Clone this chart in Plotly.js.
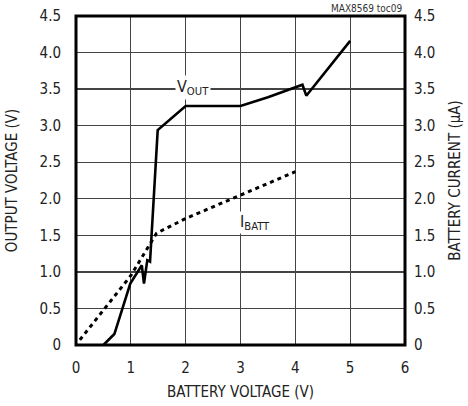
<!DOCTYPE html>
<html><head><meta charset="utf-8">
<script src="https://cdn.plot.ly/plotly-3.0.1.min.js"></script>
<style>html,body{margin:0;padding:0;background:#fff}</style>
</head><body><div id="chart" style="width:468px;height:406px"></div>
<script>
// Output voltage vs battery voltage
const voutX = [0.5, 0.70, 0.99, 1.20, 1.24, 1.30, 1.35, 1.49, 2.0, 3.0, 3.5, 4.1, 4.13, 4.2, 5.0];
const voutY = [0.0, 0.15, 0.84, 1.09, 0.84, 1.16, 1.14, 2.94, 3.27, 3.27, 3.39, 3.55, 3.56, 3.41, 4.16];
// Battery current vs battery voltage
const ibattX = [0.07, 1.0, 1.47, 2.0, 3.0, 4.0];
const ibattY = [0.07, 0.95, 1.53, 1.73, 2.05, 2.37];
const yTicks = [0, 0.5, 1.0, 1.5, 2.0, 2.5, 3.0, 3.5, 4.0, 4.5];
const yTickText = ['0', '0.5', '1.0', '1.5', '2.0', '2.5', '3.0', '3.5', '4.0', '4.5'];
const xTicks = [0, 1, 2, 3, 4, 5, 6];

const FONT = '"DejaVu Sans Condensed", "DejaVu Sans", sans-serif';

const traces = [
  {x: voutX, y: voutY, type: 'scatter', mode: 'lines', line: {color: '#000', width: 2.6}, hoverinfo: 'none'},
  {x: ibattX, y: ibattY, type: 'scatter', mode: 'lines', yaxis: 'y2', line: {color: '#000', width: 3, dash: '4px,4px'}, hoverinfo: 'none'}
];

const axCommon = {
  showgrid: true, gridcolor: '#444', gridwidth: 1.3,
  zeroline: false, showline: false, ticks: '', fixedrange: true,
  tickfont: {family: FONT, size: 15, color: '#222'}
};

const layout = {
  width: 468, height: 406,
  margin: {l: 76, r: 63, t: 16, b: 61},
  paper_bgcolor: '#fff', plot_bgcolor: '#fff',
  showlegend: false,
  font: {family: FONT, color: '#222'},
  xaxis: Object.assign({}, axCommon, {
    range: [0, 6], tickvals: xTicks, ticktext: xTicks.map(String), ticklabelstandoff: 12,
    title: {text: 'BATTERY VOLTAGE (V)', font: {family: FONT, size: 15, color: '#222'}, standoff: 10}
  }),
  yaxis: Object.assign({}, axCommon, {
    range: [0, 4.5], tickvals: yTicks, ticktext: yTickText, ticklabelstandoff: 14,
    title: {text: 'OUTPUT VOLTAGE (V)', font: {family: FONT, size: 15, color: '#222'}, standoff: 18}
  }),
  yaxis2: Object.assign({}, axCommon, {
    overlaying: 'y', side: 'right', showgrid: false,
    range: [0, 4.5], tickvals: yTicks, ticktext: yTickText, ticklabelstandoff: 8,
    title: {text: 'BATTERY CURRENT (µA)', font: {family: FONT, size: 15, color: '#222'}, standoff: 15}
  }),
  shapes: [
    {type: 'rect', xref: 'paper', yref: 'paper', x0: 0, x1: 1, y0: 0, y1: 1, line: {color: '#000', width: 3}}
  ],
  annotations: [
    {xref: 'paper', yref: 'paper', x: 1, y: 1, xanchor: 'right', yanchor: 'bottom', yshift: 0,
     text: 'MAX8569 toc09', showarrow: false, font: {family: FONT, size: 10, color: '#333'}},
    {x: 2.14, y: 3.52, xref: 'x', yref: 'y', text: 'V<sub>OUT</sub>', showarrow: false,
     bgcolor: '#fff', borderpad: 1, font: {family: FONT, size: 16, color: '#222'}},
    {x: 2.98, y: 1.67, xref: 'x', yref: 'y', xanchor: 'left', text: 'I<sub>BATT</sub>', showarrow: false,
     bgcolor: '#fff', borderpad: 0, font: {family: FONT, size: 16, color: '#222'}}
  ]
};

Plotly.newPlot('chart', traces, layout, {displayModeBar: false, staticPlot: true});
</script>
</body></html>
